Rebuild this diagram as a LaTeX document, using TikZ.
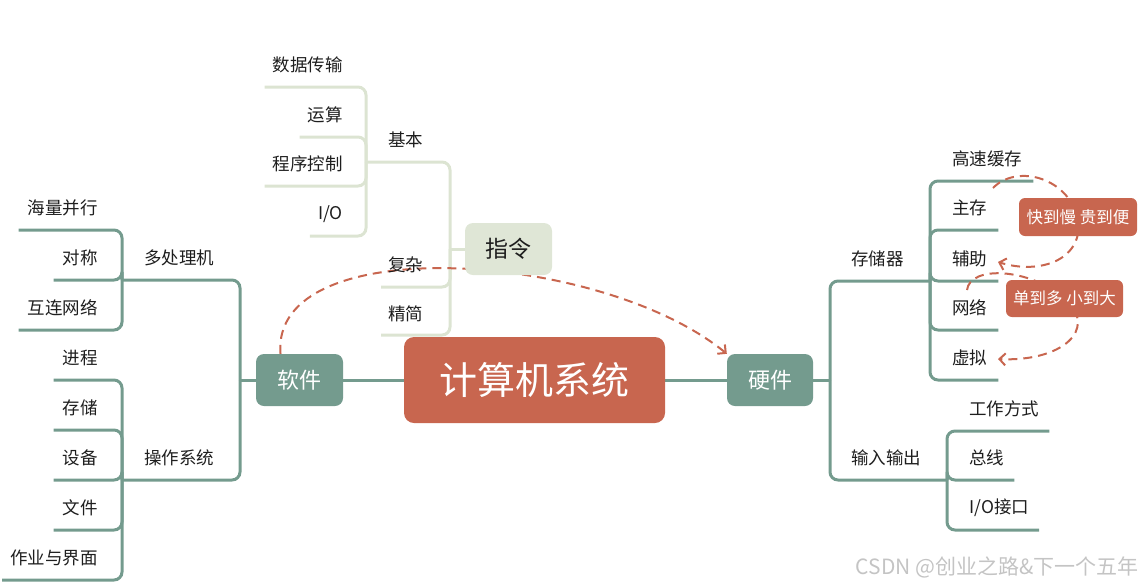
\documentclass[tikz,border=0pt]{standalone}
\usepackage{fontspec}
\setmainfont{Noto Sans CJK SC}
\usetikzlibrary{arrows.meta,calc,backgrounds}
\definecolor{mmred}{HTML}{C8664F}
\definecolor{mmteal}{HTML}{749B8E}
\definecolor{mmlight}{HTML}{DFE6D6}
\definecolor{mmline}{HTML}{DCE4D2}
\definecolor{mmtext}{HTML}{1E1E1E}
\definecolor{mmwm}{HTML}{C4C4C4}
\begin{document}
\begin{tikzpicture}[x=1pt,y=-1pt,
  lbl/.style={inner sep=0pt, font=\fontsize{17.5}{20}\selectfont, text=mmtext},
  tl/.style={draw=mmteal, line width=3pt, rounded corners=8pt},
  gl/.style={draw=mmline, line width=3pt, rounded corners=8pt},
  box/.style={inner sep=0pt, rounded corners=8pt},
  rel/.style={draw=mmred, line width=2pt, dash pattern=on 9pt off 6pt},
  relarrow/.style={rel, -{Straight Barb[length=6pt,width=12pt]}}
]
\useasboundingbox (0,0) rectangle (1143,587);

% ---------- main boxes ----------
\node[box, fill=mmred, minimum width=261pt, minimum height=86pt, rounded corners=10pt,
      font=\fontsize{38}{40}\selectfont, text=white] (c) at (534.5,380) {计算机系统};
\node[box, fill=mmteal, minimum width=87pt, minimum height=52pt,
      font=\fontsize{22}{24}\selectfont, text=white] (rj) at (299.5,380) {软件};
\node[box, fill=mmteal, minimum width=86pt, minimum height=52pt,
      font=\fontsize{22}{24}\selectfont, text=white] (hw) at (770,380) {硬件};
\node[box, fill=mmlight, minimum width=87pt, minimum height=52pt,
      font=\fontsize{23}{25}\selectfont, text=mmtext] (zl) at (508.5,249) {指令};

% ---------- left texts ----------
\node[lbl, anchor=east] (h1) at (98,208) {海量并行};
\node[lbl, anchor=east] (h2) at (98,258) {对称};
\node[lbl, anchor=east] (h3) at (98,308) {互连网络};
\node[lbl, anchor=east] (o1) at (98,358) {进程};
\node[lbl, anchor=east] (o2) at (98,408) {存储};
\node[lbl, anchor=east] (o3) at (98,458) {设备};
\node[lbl, anchor=east] (o4) at (98,508) {文件};
\node[lbl, anchor=east] (o5) at (98,558) {作业与界面};
\node[lbl, anchor=west] (mp) at (144,258) {多处理机};
\node[lbl, anchor=west] (os) at (144,458) {操作系统};

% ---------- top texts ----------
\node[lbl, anchor=east] (d1) at (343,65) {数据传输};
\node[lbl, anchor=east] (d2) at (343,115) {运算};
\node[lbl, anchor=east] (d3) at (343,164) {程序控制};
\node[lbl, anchor=east] (d4) at (343,214) {I/O};
\node[lbl, anchor=west] (jb) at (388,140) {基本};
\node[lbl, anchor=west] (fz) at (388,265) {复杂};
\node[lbl, anchor=west] (jj) at (388,314) {精简};

% ---------- right texts ----------
\node[lbl, anchor=west] (cc) at (851,259) {存储器};
\node[lbl, anchor=west] (io) at (851,458) {输入输出};
\node[lbl, anchor=west] (m1) at (952,159) {高速缓存};
\node[lbl, anchor=west] (m2) at (952,208) {主存};
\node[lbl, anchor=west] (m3) at (952,259) {辅助};
\node[lbl, anchor=west] (m4) at (952,308) {网络};
\node[lbl, anchor=west] (m5) at (952,358) {虚拟};
\node[lbl, anchor=west] (i1) at (969,409) {工作方式};
\node[lbl, anchor=west] (i2) at (969,458) {总线};
\node[lbl, anchor=west] (i3) at (969,508) {I/O接口};

% ---------- callouts ----------
\node[box, fill=mmred, rounded corners=6pt, minimum width=118pt, minimum height=38pt,
      font=\fontsize{16.5}{18}\selectfont, text=white] (cb1) at (1078,217) {快到慢 贵到便};
\node[box, fill=mmred, rounded corners=6pt, minimum width=117pt, minimum height=37pt,
      font=\fontsize{16.5}{18}\selectfont, text=white] (cb2) at (1064.5,298.5) {单到多 小到大};

% ---------- junctions ----------
\coordinate (jS) at (240,380);
\coordinate (jMP) at (122,280);
\coordinate (jOS) at (122,480);
\coordinate (jZ) at (450,249);
\coordinate (jJB) at (366,162);
\coordinate (jH) at (830,380);
\coordinate (jM) at (930,281);
\coordinate (jIO) at (947,480);
\coordinate (r1s) at (993,188);
\coordinate (r1e) at (998,262);
\coordinate (r2s) at (967,290);
\coordinate (r2e) at (998,359);

\begin{pgfonlayer}{background}
% centre connectors
\draw[tl] (rj.east) -- (c.west);
\draw[tl] (c.east) -- (hw.west);
% software branch
\draw[tl] (rj.west) -- (jS);
\draw[tl] (jS) |- (jMP);
\draw[tl] (jS) |- (jOS);
\draw[tl] (jMP) |- ($(h1.west)+(-9,22)$);
\draw[tl] (jMP) |- ($(h2.west)+(-9,22)$);
\draw[tl] (jMP) |- ($(h3.west)+(-9,22)$);
\draw[tl] (jOS) |- ($(o1.west)+(-9,22)$);
\draw[tl] (jOS) |- ($(o2.west)+(-9,22)$);
\draw[tl] (jOS) |- ($(o3.west)+(-9,22)$);
\draw[tl] (jOS) |- ($(o4.west)+(-9,22)$);
\draw[tl] (jOS) |- ($(o5.west)+(-8,22)$);
% instruction branch
\draw[gl] (zl.west) -- (jZ);
\draw[gl] (jZ) |- (jJB);
\draw[gl] (jZ) |- ($(fz.west)+(-7,22)$);
\draw[gl] (jZ) |- ($(jj.west)+(-7,21)$);
\draw[gl] (jJB) |- ($(d1.west)+(-8,22)$);
\draw[gl] (jJB) |- ($(d2.west)+(-8,22)$);
\draw[gl] (jJB) |- ($(d3.west)+(-8,22)$);
\draw[gl] (jJB) |- ($(d4.west)+(-8,22)$);
% hardware branch
\draw[tl] (hw.east) -- (jH);
\draw[tl] (jH) |- (jM);
\draw[tl] (jH) |- (jIO);
\draw[tl] (jM) |- ($(m1.east)+(11,22)$);
\draw[tl] (jM) |- ($(m2.east)+(11,22)$);
\draw[tl] (jM) |- ($(m3.east)+(11,22)$);
\draw[tl] (jM) |- ($(m4.east)+(11,22)$);
\draw[tl] (jM) |- ($(m5.east)+(11,22)$);
\draw[tl] (jIO) |- ($(i1.east)+(10,22)$);
\draw[tl] (jIO) |- ($(i2.east)+(10,22)$);
\draw[tl] (jIO) |- ($(i3.east)+(10,22)$);
% relationships
\draw[relarrow] ([xshift=-19pt]rj.north) .. controls (270,230) and (600,250) .. (hw.north west);
\draw[rel] (r1s) .. controls (1015,165) and (1065,175) .. (cb1.center);
\draw[relarrow] (cb1.center) .. controls (1085,260) and (1040,275) .. (r1e);
\draw[rel] (r2s) .. controls (970,265) and (1030,268) .. (cb2.center);
\draw[relarrow] (cb2.center) .. controls (1100,330) and (1060,362) .. (r2e);
\end{pgfonlayer}

% watermark
\node[inner sep=0pt, anchor=east, text=mmwm, font=\fontsize{21}{23}\selectfont] (wm) at (1139,567) {CSDN @创业之路\&下一个五年};
\end{tikzpicture}
\end{document}
